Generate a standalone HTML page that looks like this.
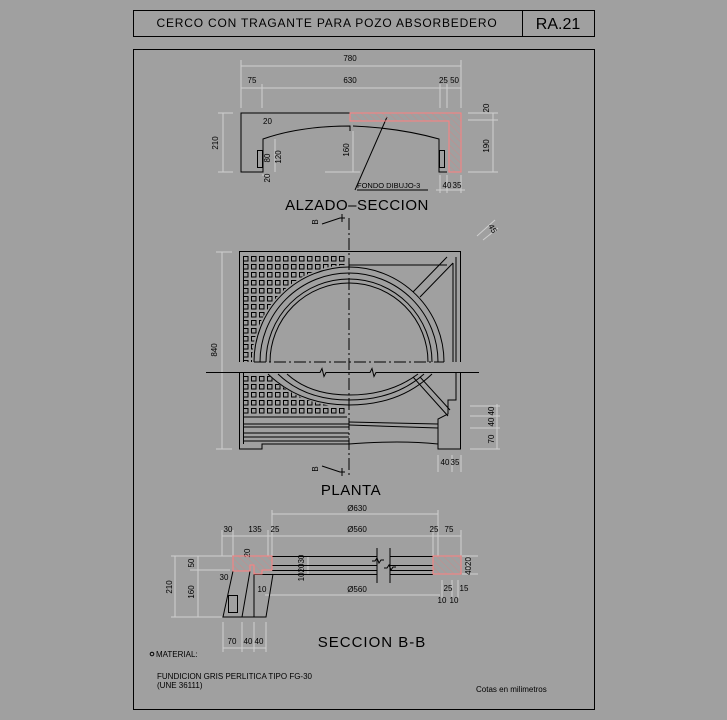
<!DOCTYPE html>
<html><head><meta charset="utf-8"><style>
html,body{margin:0;padding:0;background:#a0a0a0}
svg{display:block}
text{font-family:"Liberation Sans",sans-serif;fill:#000}
.d{stroke:#cfcfcf;stroke-width:1;fill:none}
.k{stroke:#000;stroke-width:1;fill:none}
.s{font-size:8px}
</style></head><body>
<svg width="727" height="720" viewBox="0 0 727 720" xmlns="http://www.w3.org/2000/svg">
<defs>
<pattern id="g" x="243" y="256" width="8" height="8" patternUnits="userSpaceOnUse">
<rect x="0.5" y="0.5" width="4.5" height="4.5" fill="none" stroke="#000" stroke-width="1"/>
</pattern>
<pattern id="h" width="5" height="5" patternUnits="userSpaceOnUse" patternTransform="rotate(-45)">
<line x1="0" y1="0" x2="0" y2="5" stroke="#c88" stroke-width="1"/>
</pattern>
</defs>
<rect width="727" height="720" fill="#a0a0a0"/>
<!-- title -->
<rect x="133.5" y="10.5" width="461" height="26" class="k"/>
<line x1="522.5" y1="10" x2="522.5" y2="37" class="k"/>
<text x="327" y="27" font-size="12" text-anchor="middle" letter-spacing="0.8">CERCO CON TRAGANTE PARA POZO ABSORBEDERO</text>
<text x="558" y="29" font-size="16" text-anchor="middle">RA.21</text>
<rect x="133.5" y="49.5" width="461" height="660" class="k"/>

<!-- ALZADO -->
<g class="d">
<line x1="241" y1="66" x2="461" y2="66"/><line x1="241" y1="88" x2="461" y2="88"/>
<line x1="241" y1="60" x2="241" y2="108"/><line x1="262" y1="84" x2="262" y2="108"/>
<line x1="440" y1="84" x2="440" y2="108"/><line x1="447" y1="84" x2="447" y2="108"/><line x1="461" y1="60" x2="461" y2="108"/>
<line x1="223" y1="113" x2="223" y2="172"/><line x1="218" y1="113" x2="233" y2="113"/><line x1="218" y1="172" x2="233" y2="172"/>
<line x1="493" y1="113" x2="493" y2="172"/><line x1="468" y1="113" x2="498" y2="113"/><line x1="468" y1="120" x2="498" y2="120"/><line x1="468" y1="172" x2="498" y2="172"/>
<line x1="353" y1="131" x2="353" y2="172"/><line x1="325" y1="172" x2="360" y2="172"/>
<line x1="275" y1="139" x2="275" y2="172"/><line x1="262" y1="175" x2="270" y2="175"/>
<line x1="440" y1="175" x2="440" y2="193"/><line x1="447" y1="175" x2="447" y2="193"/><line x1="461" y1="175" x2="461" y2="193"/>
<line x1="436" y1="190" x2="465" y2="190"/>
</g>
<text x="252" y="83" class="s" text-anchor="middle">75</text>
<text x="350" y="61" class="s" text-anchor="middle">780</text>
<text x="350" y="83" class="s" text-anchor="middle">630</text>
<text x="449" y="83" class="s" text-anchor="middle">25 50</text>
<text class="s" transform="translate(218,143) rotate(-90)" text-anchor="middle">210</text>
<text class="s" transform="translate(489,108) rotate(-90)" text-anchor="middle">20</text>
<text class="s" transform="translate(489,146) rotate(-90)" text-anchor="middle">190</text>
<text class="s" transform="translate(349,150) rotate(-90)" text-anchor="middle">160</text>
<text class="s" transform="translate(270,158) rotate(-90)" text-anchor="middle">80</text>
<text class="s" transform="translate(281,157) rotate(-90)" text-anchor="middle">120</text>
<text class="s" transform="translate(270,178) rotate(-90)" text-anchor="middle">20</text>
<text x="263" y="124" class="s">20</text>
<text x="447" y="188" class="s" text-anchor="middle">40</text><text x="457" y="188" class="s" text-anchor="middle">35</text>
<text x="357" y="188" font-size="7.5">FONDO DIBUJO-3</text>
<line x1="357" y1="190" x2="428" y2="190" class="k"/>
<line x1="355" y1="190" x2="387" y2="117" class="k"/>
<path d="M350,113 H241 V172 H263 V139 Q300,126 350,126 V131" class="k"/>
<path d="M353,126 Q400,128 439,139 V172 H447" class="k"/>
<rect x="257.5" y="150.5" width="5" height="17" class="k"/>
<rect x="439.5" y="150.5" width="5" height="17" class="k"/>
<path d="M350,113 H461 V172 H449 V121 H350 Z" fill="url(#h)" stroke="#ff8080"/>
<text x="357" y="210" font-size="15" text-anchor="middle" letter-spacing="0.5">ALZADO–SECCION</text>

<!-- PLANTA -->
<g class="d">
<line x1="222" y1="252" x2="222" y2="449"/><line x1="216" y1="252" x2="232" y2="252"/><line x1="216" y1="449" x2="232" y2="449"/>
<line x1="497" y1="404" x2="497" y2="449"/><line x1="470" y1="406" x2="500" y2="406"/><line x1="470" y1="416" x2="500" y2="416"/><line x1="470" y1="428" x2="500" y2="428"/><line x1="470" y1="449" x2="500" y2="449"/>
<line x1="438" y1="455" x2="438" y2="472"/><line x1="452" y1="455" x2="452" y2="472"/><line x1="461" y1="455" x2="461" y2="472"/>
<line x1="477" y1="236" x2="495" y2="220"/><line x1="483" y1="240" x2="498" y2="228"/>
<line x1="383" y1="320" x2="398" y2="305"/><line x1="387" y1="325" x2="402" y2="310"/>
<line x1="427" y1="405" x2="440" y2="392"/>
</g>
<text class="s" transform="translate(217,350) rotate(-90)" text-anchor="middle">840</text>
<text class="s" transform="translate(494,411) rotate(-90)" text-anchor="middle">40</text>
<text class="s" transform="translate(494,422) rotate(-90)" text-anchor="middle">40</text>
<text class="s" transform="translate(494,439) rotate(-90)" text-anchor="middle">70</text>
<text x="445" y="465" class="s" text-anchor="middle">40</text><text x="455" y="465" class="s" text-anchor="middle">35</text>
<text class="s" transform="translate(488,226) rotate(60)">45</text>
<text class="s" transform="translate(430,380) rotate(60)">45</text>
<text class="s" transform="translate(385,307) rotate(60)">10 20 10</text>

<rect x="243" y="256" width="104" height="110" fill="url(#g)"/>
<rect x="243" y="376" width="104" height="40" fill="url(#g)"/>
<!-- cover circle region over grid -->
<path d="M252,362 A97,97 0 0 1 446,362 Z" fill="#a0a0a0"/>
<rect x="240" y="362" width="220" height="11" fill="#a0a0a0"/>
<path d="M349,252 H461 V362 H349 Z" fill="#a0a0a0"/>
<path d="M349,373 H461 V449 H349 Z" fill="#a0a0a0"/>
<path d="M266,373 Q300,407 349,407 Q400,407 434,373 Z" fill="#a0a0a0"/>
<g class="k">
<path d="M239.5,362 V251.5 H460.5 V362"/>
<path d="M239.5,373 V449 H262 V444 H349 Q400,440 438,444 V449 H460.5 V373"/>
<line x1="243.5" y1="256" x2="243.5" y2="362"/>
<line x1="243.5" y1="373" x2="243.5" y2="444"/>
<path d="M254,362 A95,95 0 0 1 444,362"/>
<path d="M260,362 A89,89 0 0 1 438,362"/>
<path d="M266,362 A83,83 0 0 1 432,362"/>
<path d="M270,362 A79,79 0 0 1 428,362"/>
<path d="M268,374 Q300,405 349,405 Q400,405 432,374"/>
<path d="M278,374 Q305,400 349,400 Q395,400 424,374"/>
<path d="M287,374 Q310,395 349,395 Q390,395 418,374"/>
<line x1="349" y1="265" x2="447" y2="265"/>
<line x1="413" y1="292" x2="447" y2="257"/><line x1="420" y1="297" x2="453" y2="263"/>
<line x1="453" y1="263" x2="453" y2="362"/><line x1="456" y1="257" x2="456" y2="362"/>
<line x1="413" y1="377" x2="448" y2="416"/><line x1="420" y1="377" x2="450" y2="410"/>
<path d="M438,449 V419 L448,414 V400 H456 V373"/>
<line x1="243" y1="417" x2="347" y2="417"/>
<line x1="243" y1="424" x2="349" y2="424"/><line x1="349" y1="422" x2="438" y2="424"/>
<line x1="243" y1="427" x2="349" y2="427"/><line x1="243" y1="433" x2="349" y2="433"/>
<line x1="243" y1="437" x2="349" y2="437"/><line x1="349" y1="425" x2="438" y2="428"/>
<line x1="243" y1="441" x2="349" y2="441"/>
<path d="M206,372.5 H320 l2,-4 l2,8 l2,-4 H370 l2,-4 l2,8 l2,-4 H479"/>
<line x1="349" y1="218" x2="349" y2="478" stroke-dasharray="12,3,2,3"/>
<line x1="254" y1="362" x2="444" y2="362" stroke-dasharray="12,3,2,3"/>
<path d="M322,224 L340,218 H345 M342,214 V222"/>
<path d="M322,466 L340,472 H345 M342,468 V476"/>
</g>
<text class="s" transform="translate(318,222) rotate(-90)" text-anchor="middle">B</text>
<text class="s" transform="translate(318,469) rotate(-90)" text-anchor="middle">B</text>
<text x="351" y="495" font-size="15" text-anchor="middle" letter-spacing="0.5">PLANTA</text>

<!-- SECCION B-B -->
<g class="d">
<line x1="272" y1="514" x2="438" y2="514"/><line x1="222" y1="536" x2="461" y2="536"/>
<line x1="272" y1="510" x2="272" y2="556"/><line x1="438" y1="510" x2="438" y2="556"/>
<line x1="222" y1="530" x2="222" y2="556"/><line x1="233" y1="530" x2="233" y2="556"/><line x1="268" y1="530" x2="268" y2="556"/>
<line x1="433" y1="530" x2="433" y2="556"/><line x1="461" y1="530" x2="461" y2="556"/>
<line x1="175" y1="556" x2="175" y2="617"/><line x1="171" y1="556" x2="232" y2="556"/><line x1="171" y1="617" x2="222" y2="617"/>
<line x1="198" y1="556" x2="198" y2="617"/><line x1="190" y1="570" x2="230" y2="570"/>
<line x1="265" y1="595" x2="440" y2="595"/>
<line x1="223" y1="622" x2="223" y2="652"/><line x1="242" y1="622" x2="242" y2="652"/><line x1="254" y1="622" x2="254" y2="652"/><line x1="266" y1="622" x2="266" y2="652"/>
<line x1="223" y1="648" x2="266" y2="648"/>
<line x1="468" y1="556" x2="468" y2="574"/><line x1="462" y1="556" x2="478" y2="556"/><line x1="462" y1="574" x2="478" y2="574"/>
<line x1="442" y1="580" x2="442" y2="598"/><line x1="452" y1="580" x2="452" y2="598"/><line x1="458" y1="580" x2="458" y2="598"/>
<line x1="308" y1="556" x2="308" y2="575"/>
</g>
<text x="357" y="511" class="s" text-anchor="middle">Ø630</text>
<text x="228" y="532" class="s" text-anchor="middle">30</text>
<text x="255" y="532" class="s" text-anchor="middle">135</text>
<text x="275" y="532" class="s" text-anchor="middle">25</text>
<text x="357" y="532" class="s" text-anchor="middle">Ø560</text>
<text x="434" y="532" class="s" text-anchor="middle">25</text>
<text x="449" y="532" class="s" text-anchor="middle">75</text>
<text x="357" y="592" class="s" text-anchor="middle">Ø560</text>
<text class="s" transform="translate(172,587) rotate(-90)" text-anchor="middle">210</text>
<text class="s" transform="translate(194,563) rotate(-90)" text-anchor="middle">50</text>
<text class="s" transform="translate(194,592) rotate(-90)" text-anchor="middle">160</text>
<text class="s" transform="translate(250,553) rotate(-90)" text-anchor="middle">20</text>
<text class="s" transform="translate(304,568) rotate(-90)" text-anchor="middle">102030</text>
<text class="s" transform="translate(471,566) rotate(-90)" text-anchor="middle">4020</text>
<text x="224" y="580" class="s" text-anchor="middle">30</text>
<text x="262" y="592" class="s" text-anchor="middle">10</text>
<text x="448" y="591" class="s" text-anchor="middle">25</text>
<text x="464" y="591" class="s" text-anchor="middle">15</text>
<text x="442" y="603" class="s" text-anchor="middle">10</text><text x="454" y="603" class="s" text-anchor="middle">10</text>
<text x="232" y="644" class="s" text-anchor="middle">70</text>
<text x="248" y="644" class="s" text-anchor="middle">40</text>
<text x="259" y="644" class="s" text-anchor="middle">40</text>
<g class="k">
<line x1="272" y1="556.5" x2="377" y2="556.5"/><line x1="272" y1="565.5" x2="377" y2="565.5"/><line x1="272" y1="570.5" x2="377" y2="570.5"/><line x1="254" y1="574.5" x2="377" y2="574.5"/>
<line x1="390" y1="556.5" x2="433" y2="556.5"/><line x1="390" y1="565.5" x2="433" y2="565.5"/><line x1="390" y1="570.5" x2="433" y2="570.5"/><line x1="390" y1="574.5" x2="433" y2="574.5"/>
<line x1="377" y1="548" x2="377" y2="583"/><line x1="390" y1="548" x2="390" y2="583"/>
<path d="M372,561 h3 l2,-3 l2,5 l2,-3 h3"/><path d="M384,568 h3 l2,-3 l2,5 l2,-3 h3"/>
<path d="M233,571 L223,617 H266 L273,574"/>
<line x1="250" y1="571" x2="242" y2="617"/>
<line x1="254" y1="565" x2="254" y2="617"/>
<rect x="228.5" y="595.5" width="9" height="17"/>
</g>
<path d="M233,556 H272 V570 H262 V574 H254 V565 H250 V571 H233 Z" fill="url(#h)" stroke="#ff8080"/>
<path d="M433,556 H461 V574 H433 Z" fill="url(#h)" stroke="#ff8080"/>
<text x="372" y="647" font-size="15" text-anchor="middle" letter-spacing="1">SECCION B-B</text>

<circle cx="152" cy="654" r="1.8" class="k"/>
<text x="156" y="657" class="s">MATERIAL:</text>
<text x="157" y="679" class="s">FUNDICION GRIS PERLITICA TIPO FG-30</text>
<text x="157" y="688" class="s">(UNE 36111)</text>
<text x="476" y="692" class="s">Cotas en milimetros</text>
</svg>
</body></html>
